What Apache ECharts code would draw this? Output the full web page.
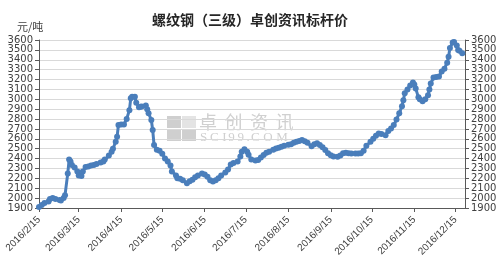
<!DOCTYPE html>
<html>
<head>
<meta charset="utf-8">
<script src="https://cdn.jsdelivr.net/npm/echarts@6/dist/echarts.min.js"></script>
<style>html,body{margin:0;padding:0;background:#fff}#c{width:500px;height:266px}</style>
</head>
<body>
<div id="c"></div>
<script>
var dates = ['2016-02-15','2016-02-17','2016-02-19','2016-02-22','2016-02-23','2016-02-25','2016-02-27','2016-03-01','2016-03-02','2016-03-04','2016-03-05','2016-03-07','2016-03-08','2016-03-09','2016-03-10','2016-03-12','2016-03-14','2016-03-15','2016-03-17','2016-03-18','2016-03-20','2016-03-22','2016-03-24','2016-03-26','2016-03-28','2016-03-31','2016-04-02','2016-04-03','2016-04-06','2016-04-08','2016-04-09','2016-04-11','2016-04-12','2016-04-13','2016-04-15','2016-04-17','2016-04-19','2016-04-21','2016-04-22','2016-04-23','2016-04-25','2016-04-26','2016-04-28','2016-04-29','2016-04-30','2016-05-03','2016-05-04','2016-05-05','2016-05-07','2016-05-08','2016-05-09','2016-05-11','2016-05-13','2016-05-15','2016-05-17','2016-05-19','2016-05-21','2016-05-22','2016-05-25','2016-05-26','2016-05-28','2016-05-30','2016-06-02','2016-06-04','2016-06-06','2016-06-08','2016-06-10','2016-06-13','2016-06-15','2016-06-17','2016-06-19','2016-06-21','2016-06-23','2016-06-25','2016-06-27','2016-06-30','2016-07-02','2016-07-04','2016-07-06','2016-07-09','2016-07-11','2016-07-12','2016-07-14','2016-07-16','2016-07-17','2016-07-19','2016-07-22','2016-07-24','2016-07-26','2016-07-28','2016-07-30','2016-08-01','2016-08-04','2016-08-06','2016-08-08','2016-08-10','2016-08-12','2016-08-15','2016-08-17','2016-08-19','2016-08-21','2016-08-23','2016-08-25','2016-08-27','2016-08-29','2016-09-01','2016-09-03','2016-09-05','2016-09-07','2016-09-09','2016-09-11','2016-09-13','2016-09-15','2016-09-17','2016-09-20','2016-09-22','2016-09-24','2016-09-26','2016-09-28','2016-09-30','2016-10-03','2016-10-05','2016-10-07','2016-10-09','2016-10-11','2016-10-14','2016-10-16','2016-10-18','2016-10-20','2016-10-22','2016-10-25','2016-10-27','2016-10-29','2016-10-31','2016-11-02','2016-11-04','2016-11-06','2016-11-07','2016-11-08','2016-11-10','2016-11-12','2016-11-14','2016-11-15','2016-11-16','2016-11-18','2016-11-19','2016-11-21','2016-11-23','2016-11-25','2016-11-26','2016-11-27','2016-11-29','2016-12-01','2016-12-03','2016-12-05','2016-12-07','2016-12-09','2016-12-10','2016-12-11','2016-12-13','2016-12-14','2016-12-16','2016-12-17','2016-12-18','2016-12-20'];
var prices = [1910,1930,1950,1965,1990,2000,1990,1980,1975,2000,2030,2250,2390,2370,2336,2310,2270,2230,2225,2270,2315,2320,2330,2335,2345,2360,2370,2390,2430,2470,2500,2570,2620,2740,2745,2745,2800,2890,3010,3025,3025,2965,2920,2925,2928,2938,2900,2860,2790,2690,2537,2490,2480,2450,2400,2370,2330,2270,2230,2200,2195,2180,2150,2170,2185,2210,2230,2250,2240,2215,2180,2168,2180,2200,2230,2260,2290,2340,2355,2370,2420,2470,2495,2470,2440,2390,2380,2385,2410,2436,2460,2470,2490,2503,2510,2520,2530,2540,2545,2560,2570,2578,2588,2575,2560,2525,2545,2554,2537,2515,2486,2455,2435,2422,2418,2430,2453,2458,2455,2451,2451,2452,2455,2480,2530,2570,2600,2630,2654,2650,2637,2680,2705,2740,2795,2860,2930,2990,3060,3100,3140,3170,3150,3110,3020,3000,2980,3000,3040,3100,3160,3220,3225,3230,3280,3310,3370,3430,3520,3575,3580,3545,3500,3490,3465];
var tickDates = ['2016-02-15','2016-03-15','2016-04-15','2016-05-15','2016-06-15','2016-07-15','2016-08-15','2016-09-15','2016-10-15','2016-11-15','2016-12-15'];
var titleText = '螺纹钢（三级）卓创资讯标杆价';
var unitText = '元/吨';
var watermarkCn = '卓创资讯';
var watermarkEn = 'SCI99.COM';

var DAY = 86400000;
function ts(s){ var p=s.split('-'); return Date.UTC(+p[0], +p[1]-1, +p[2]); }
var t0 = ts(dates[0]);
function dayIdx(s){ return Math.round((ts(s)-t0)/DAY); }
var seriesData = dates.map(function(d,i){ return [dayIdx(d), prices[i]]; });
var tickVals = tickDates.map(dayIdx);

var chart = echarts.init(document.getElementById('c'), null, {renderer:'canvas'});
var font = 'Liberation Sans, Arial, sans-serif';
var yAxisCommon = {
  type:'value', min:1900, max:3600, interval:100,
  axisLine:{show:true, lineStyle:{color:'#595959', width:1}},
  axisTick:{show:true, length:4, lineStyle:{color:'#595959'}},
  axisLabel:{color:'#404040', fontSize:10, fontFamily:'DejaVu Sans, sans-serif', margin:6,
    formatter:function(v){ return String(v); }},
  splitLine:{show:true, lineStyle:{color:'#d9d9d9', width:1}}
};
// watermark glyphs, laid out with a stretched advance
var wmGraphics = [];
watermarkCn.split('').forEach(function(ch, i){
  wmGraphics.push({type:'text', x:199 + i*25.5, y:113, style:{text:ch, fontSize:18, fill:'#d0d0d0', fontFamily:'Noto Sans CJK SC'}});
});
var enAdv = {S:0.556, C:0.667, I:0.333, '9':0.5, '.':0.25, O:0.722, M:0.889};
var ex = 200;
watermarkEn.split('').forEach(function(ch){
  wmGraphics.push({type:'text', x:ex, y:131, style:{text:ch, fontSize:13, fill:'#d0d0d0', fontFamily:'Liberation Serif, serif'}});
  ex += enAdv[ch]*13*1.4;
});
chart.setOption({
  animation:false,
  backgroundColor:'#ffffff',
  title:{text:titleText, left:'center', top:8, textStyle:{fontSize:14, fontWeight:'bold', color:'#262626', fontFamily:'Noto Sans CJK SC'}},
  graphic:[
    {type:'text', left:17, top:21, style:{text:unitText, fontSize:11, fill:'#404040', fontFamily:'Noto Sans CJK SC'}},
    {type:'group', left:167, top:116, children:[
      {type:'rect', shape:{x:0,y:0,width:14,height:12}, style:{fill:'#cfcfcf'}},
      {type:'rect', shape:{x:15,y:0,width:14,height:12}, style:{fill:'#e4e4e4'}},
      {type:'rect', shape:{x:0,y:13,width:14,height:12}, style:{fill:'#cfcfcf'}},
      {type:'rect', shape:{x:15,y:13,width:14,height:12}, style:{fill:'#cfcfcf'}}
    ]}
  ].concat(wmGraphics),
  grid:{left:39, right:35, top:40, bottom:58, containLabel:false},
  xAxis:{
    type:'value', min:0, max:dayIdx('2016-12-22'),
    axisLine:{show:true, lineStyle:{color:'#595959', width:1}},
    axisTick:{show:true, length:4, customValues:tickVals, lineStyle:{color:'#595959'}},
    axisLabel:{show:true, customValues:tickVals, rotate:45, fontSize:10, color:'#404040', fontFamily:font, margin:10,
      formatter:function(v){ var d=new Date(t0 + v*DAY); return d.getUTCFullYear()+'/'+(d.getUTCMonth()+1)+'/'+d.getUTCDate(); }},
    splitLine:{show:false}
  },
  yAxis:[
    Object.assign({}, yAxisCommon, {position:'left'}),
    Object.assign({}, yAxisCommon, {position:'right', splitLine:{show:false}})
  ],
  series:[{
    type:'line', data:seriesData, yAxisIndex:0,
    symbol:'circle', symbolSize:6, showSymbol:true,
    lineStyle:{color:'#4a7ebb', width:3},
    itemStyle:{color:'#4a7ebb'}
  }]
});
</script>
</body>
</html>
